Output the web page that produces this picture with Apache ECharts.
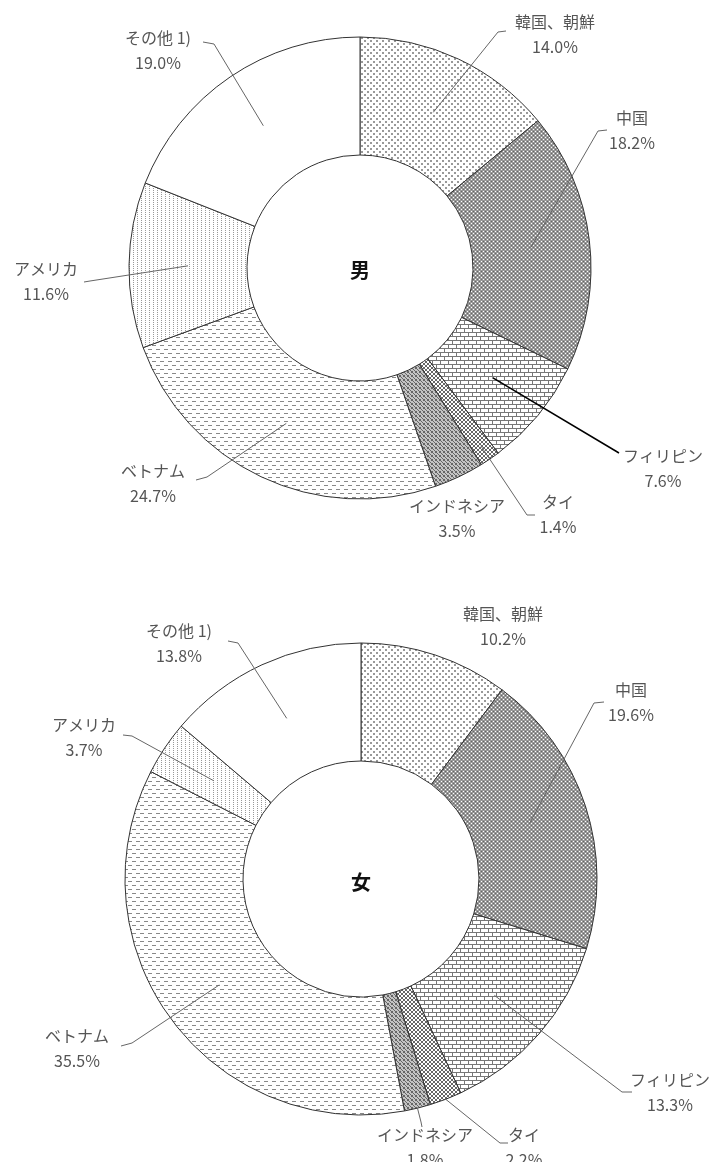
<!DOCTYPE html>
<html>
<head>
<meta charset="utf-8">
<script src="https://cdn.jsdelivr.net/npm/echarts@6/dist/echarts.min.js"></script>
<style>
  html, body { margin: 0; padding: 0; background: #fff; }
  #main { width: 714px; height: 1162px; }
</style>
</head>
<body>
<div id="main"></div>
<script>
// 国籍別構成比（男・女）
const countries = ['韓国、朝鮮', '中国', 'フィリピン', 'タイ', 'インドネシア', 'ベトナム', 'アメリカ', 'その他 1)'];
const maleShare = [14.0, 18.2, 7.6, 1.4, 3.5, 24.7, 11.6, 19.0];
const femaleShare = [10.2, 19.6, 13.3, 2.2, 1.8, 35.5, 3.7, 13.8];

// 網掛けパターン
function tile(w, h, paint) {
  const c = document.createElement('canvas');
  c.width = w;
  c.height = h;
  const g = c.getContext('2d');
  g.fillStyle = '#fff';
  g.fillRect(0, 0, w, h);
  paint(g);
  return { image: c, repeat: 'repeat' };
}
function px(g, color, list) {
  g.fillStyle = color;
  list.forEach(function (p) { g.fillRect(p[0], p[1], p[2] || 1, p[3] || 1); });
}
const fills = [
  // 韓国、朝鮮: まばらな点
  tile(6, 6, g => px(g, '#999', [[1, 1, 2, 2], [4, 4, 2, 2]])),
  // 中国: 濃い網
  tile(4, 4, g => {
    g.fillStyle = '#999'; g.fillRect(0, 0, 4, 4);
    px(g, '#fff', [[1, 1], [3, 3]]);
    px(g, '#666', [[1, 3], [3, 1]]);
  }),
  // フィリピン: れんが
  tile(8, 8, g => px(g, '#777', [[0, 0, 8, 1], [0, 4, 8, 1], [0, 0, 1, 4], [4, 4, 1, 4]])),
  // タイ: 斜め格子
  tile(4, 4, g => px(g, '#666', [[0, 0], [1, 1], [2, 2], [3, 3], [3, 0], [2, 1], [1, 2], [0, 3]])),
  // インドネシア: 濃い斜め格子
  tile(4, 4, g => {
    g.fillStyle = '#c4c4c4'; g.fillRect(0, 0, 4, 4);
    px(g, '#666', [[0, 0], [1, 1], [2, 2], [3, 3], [3, 0], [0, 3]]);
  }),
  // ベトナム: 横破線
  tile(8, 8, g => px(g, '#888', [[0, 1, 4, 1], [4, 5, 4, 1]])),
  // アメリカ: 縦点線
  tile(4, 2, g => px(g, '#999', [[1, 0]])),
  // その他
  '#fff'
];

// ラベル位置と引出線（折れ点, 端点）
const maleLabels = [
  { x: 555, y: 34, line: [[498, 32], [506, 31]] },
  { x: 632, y: 130, line: [[598, 131], [607, 130]] },
  { x: 663, y: 468, line: [[614, 450], [619, 453]], bold: true },
  { x: 558, y: 514, line: [[527, 515], [535, 515]], depth: 215 },
  { x: 457, y: 518 },
  { x: 153, y: 483, line: [[207, 477], [196, 480]] },
  { x: 46, y: 281, line: [[90, 281], [84, 282]] },
  { x: 158, y: 50, line: [[214, 44], [203, 42]] }
];
const femaleLabels = [
  { x: 503, y: 626 },
  { x: 631, y: 702, line: [[594, 703], [604, 702]] },
  { x: 670, y: 1092, line: [[622, 1092], [632, 1092]] },
  { x: 524, y: 1147, line: [[500, 1143], [508, 1143]], depth: 236 },
  { x: 425, y: 1147, line: [[421, 1122], [422, 1127]], depth: 236 },
  { x: 77, y: 1048, line: [[132, 1043], [121, 1046]] },
  { x: 84, y: 737, line: [[132, 736], [123, 735]] },
  { x: 179, y: 643, line: [[238, 643], [228, 641]] }
];

function makeLayout(pos, center, r0, r1) {
  return function (p) {
    const q = pos[p.dataIndex];
    const out = { x: q.x, y: q.y, align: 'center', verticalAlign: 'middle' };
    const pts = p.labelLinePoints;
    if (pts && q.line) {
      const k = (q.depth || (r0 + r1) / 2) / r1;
      const s = [center[0] + (pts[0][0] - center[0]) * k, center[1] + (pts[0][1] - center[1]) * k];
      out.labelLinePoints = [s, q.line[0], q.line[1]];
    }
    return out;
  };
}

// 塗りのリング
function ring(values, center, r0, r1) {
  return {
    type: 'pie',
    z: 2,
    center: center,
    radius: [r0, r1],
    startAngle: 90,
    clockwise: true,
    silent: true,
    label: { show: false },
    labelLine: { show: false },
    itemStyle: { borderColor: '#333', borderWidth: 1 },
    data: countries.map((n, i) => ({ name: n, value: values[i], itemStyle: { color: fills[i] } }))
  };
}

// ラベルと引出線だけの透明リング（塗りの上に描く）
function labelRing(values, labels, center, r0, r1) {
  return {
    type: 'pie',
    z: 5,
    center: center,
    radius: [r0, r1],
    startAngle: 90,
    clockwise: true,
    avoidLabelOverlap: false,
    silent: true,
    itemStyle: { color: 'rgba(0,0,0,0)', borderWidth: 0 },
    label: {
      show: true,
      formatter: p => p.name + '\n' + p.value.toFixed(1) + '%',
      color: '#555',
      fontSize: 16,
      lineHeight: 25,
      fontFamily: '"Noto Sans CJK JP", sans-serif'
    },
    labelLine: { show: true, length: 10, length2: 10, lineStyle: { color: '#666', width: 1 } },
    labelLayout: makeLayout(labels, center, r0, r1),
    data: countries.map((n, i) => ({
      name: n,
      value: values[i],
      labelLine: labels[i].line
        ? (labels[i].bold ? { show: true, lineStyle: { color: '#000', width: 1.5 } } : { show: true })
        : { show: false }
    }))
  };
}

const chart = echarts.init(document.getElementById('main'));
chart.setOption({
  animation: false,
  backgroundColor: '#fff',
  graphic: [
    { type: 'text', z: 10, x: 360, y: 270, style: { text: '男', align: 'center', verticalAlign: 'middle', font: 'bold 20px "Noto Sans CJK JP"', fill: '#111' } },
    { type: 'text', z: 10, x: 361, y: 882, style: { text: '女', align: 'center', verticalAlign: 'middle', font: 'bold 20px "Noto Sans CJK JP"', fill: '#111' } }
  ],
  series: [
    ring(maleShare, [360, 268], 113, 231),
    ring(femaleShare, [361, 879], 118, 236),
    labelRing(maleShare, maleLabels, [360, 268], 113, 231),
    labelRing(femaleShare, femaleLabels, [361, 879], 118, 236)
  ]
});
</script>
</body>
</html>
